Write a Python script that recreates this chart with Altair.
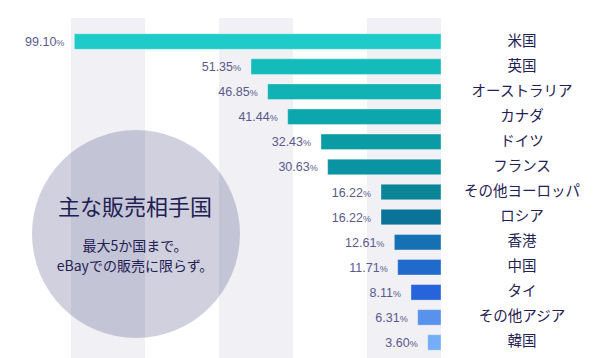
import altair as alt
import pandas as pd

countries = ["米国", "英国", "オーストラリア", "カナダ", "ドイツ", "フランス",
             "その他ヨーロッパ", "ロシア", "香港", "中国", "タイ", "その他アジア", "韓国"]
values = [99.10, 51.35, 46.85, 41.44, 32.43, 30.63, 16.22, 16.22, 12.61, 11.71, 8.11, 6.31, 3.60]
colors = ["#1ECBC8", "#14BBBB", "#10B2B4", "#0CA7AC", "#0A9BA4", "#0A93A2",
          "#0A8496", "#0C7398", "#1670B4", "#1F6ACB", "#2763DA", "#5892EC", "#74AEF6"]
band_starts = [0, 40, 80]
band_ends = [20, 60, 100]
title_text = "主な販売相手国"
sub_line1 = "最大5か国まで。"
sub_line2 = "eBayでの販売に限らず。"

df = pd.DataFrame({"country": countries, "value": values,
                   "label": [f"{v:.2f}" for v in values]})
bands = pd.DataFrame({"start": band_starts, "end": band_ends})
one = pd.DataFrame({"k": [0]})

xscale = alt.Scale(domain=[0, 100], reverse=True, nice=False, zero=True)
yscale = alt.Scale(domain=countries, paddingInner=0.38, paddingOuter=0.19)

band_layer = alt.Chart(bands).mark_rect(color="#F0F0F5").encode(
    x=alt.X("start:Q", scale=xscale, axis=None),
    x2="end:Q",
    y=alt.value(-11),
    y2=alt.value(340),
)

circle = alt.Chart(one).mark_circle(
    color="#3A3A78", opacity=0.24, size=208 * 208
).encode(x=alt.value(65), y=alt.value(205))

def center_text(txt, y, size):
    return alt.Chart(one).mark_text(
        font="Noto Sans CJK JP", fontSize=size, color="#1F2152",
        align="center", baseline="middle", text=txt
    ).encode(x=alt.value(64), y=alt.value(y))

title = center_text(title_text, 179, 22)
sub1 = center_text(sub_line1, 217.5, 14)
sub2 = center_text(sub_line2, 238, 14)

bars = alt.Chart(df).mark_bar(stroke="white", strokeOpacity=0.35, strokeWidth=1).encode(
    x=alt.X("value:Q", scale=xscale, axis=None),
    y=alt.Y("country:N", scale=yscale, axis=None, sort=countries),
    color=alt.Color("country:N", scale=alt.Scale(domain=countries, range=colors), legend=None),
)

nums = alt.Chart(df).mark_text(
    font="Liberation Sans", fontSize=12.5, color="#5A5A8C", align="right",
    baseline="alphabetic", dx=-18, dy=4.5
).encode(
    x=alt.X("value:Q", scale=xscale, axis=None),
    y=alt.Y("country:N", scale=yscale, axis=None, sort=countries),
    text="label:N",
)

pct = alt.Chart(df).mark_text(
    font="Liberation Sans", fontSize=9, color="#5A5A8C", align="right",
    baseline="alphabetic", dx=-10, dy=4.5
).encode(
    x=alt.X("value:Q", scale=xscale, axis=None),
    y=alt.Y("country:N", scale=yscale, axis=None, sort=countries),
    text=alt.value("%"),
)

names = alt.Chart(df).mark_text(
    font="Noto Sans CJK JP", fontSize=14.5, color="#1F2152", align="center", baseline="middle"
).encode(
    x=alt.value(451),
    y=alt.Y("country:N", scale=yscale, axis=None, sort=countries),
    text="country:N",
)

chart = alt.layer(band_layer, circle, title, sub1, sub2, bars, nums, pct, names).properties(
    width=370, height=326,
    autosize=alt.AutoSizeParams(type="none"),
    padding={"left": 63, "top": 21, "right": 150, "bottom": 3},
    background="white",
).configure_view(stroke=None)

chart.save("out.html", embed_options={"renderer": "svg", "actions": False})
